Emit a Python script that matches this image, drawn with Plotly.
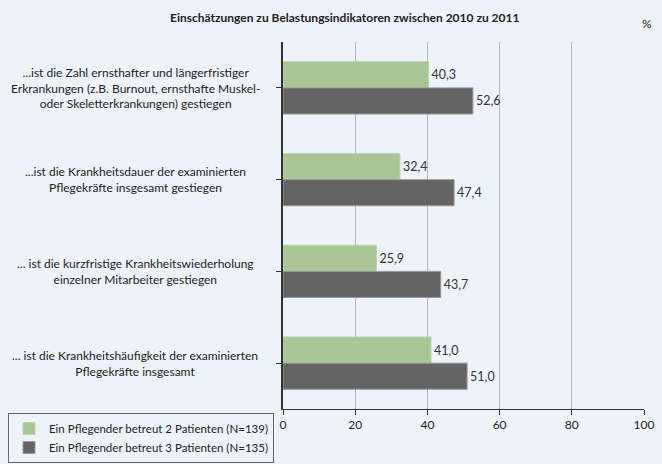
import plotly.graph_objects as go

categories = [
    "...ist die Zahl ernsthafter und längerfristiger<br>Erkrankungen (z.B. Burnout, ernsthafte Muskel-<br>oder Skeletterkrankungen) gestiegen",
    "...ist die Krankheitsdauer der examinierten<br>Pflegekräfte insgesamt gestiegen",
    "... ist die kurzfristige Krankheitswiederholung<br>einzelner Mitarbeiter gestiegen",
    "... ist die Krankheitshäufigkeit der examinierten<br>Pflegekräfte insgesamt",
]
series_names = [
    "Ein Pflegender betreut 2 Patienten (N=139)",
    "Ein Pflegender betreut 3 Patienten (N=135)",
]
values_2 = [40.3, 32.4, 25.9, 41.0]
values_3 = [52.6, 47.4, 43.7, 51.0]
x_ticks = [0, 20, 40, 60, 80, 100]
title_text = "Einschätzungen zu Belastungsindikatoren zwischen 2010 zu 2011"
unit_text = "%"

FONT = "Lato"
BG = "#eef2f9"
ids = list(range(len(categories)))
PH = 464 - 42 - 55
PW = 662 - 283 - 18


def fmt(v):
    return f"{v:.1f}".replace(".", ",")


fig = go.Figure()
fig.add_trace(go.Bar(
    y=ids, x=values_2, orientation="h", name=series_names[0],
    marker=dict(color="#a9c796", line=dict(color="#bcd3ad", width=1)),
    text=[fmt(v) for v in values_2], textposition="outside",
    textfont=dict(size=12.5, color="#333333", family=FONT), cliponaxis=False,
))
fig.add_trace(go.Bar(
    y=ids, x=values_3, orientation="h", name=series_names[1],
    marker=dict(color="#646464", line=dict(color="#999999", width=1)),
    text=[fmt(v) for v in values_3], textposition="outside",
    textfont=dict(size=12.5, color="#333333", family=FONT), cliponaxis=False,
))

for i, c in enumerate(categories):
    fig.add_annotation(
        x=(135 - 283) / PW, xref="paper", y=i, yref="y", text=c, showarrow=False,
        align="center", xanchor="center", yanchor="middle",
        font=dict(size=12, color="#222222", family=FONT),
    )

fig.add_annotation(
    x=(344 - 283) / PW, xref="paper", xanchor="center",
    y=1 + (42 - 18) / PH, yref="paper", yanchor="middle",
    text="<b>" + title_text + "</b>", showarrow=False,
    font=dict(size=12, color="#222222", family=FONT),
)
fig.add_annotation(
    x=(647 - 283) / PW, xref="paper", xanchor="center",
    y=1 + (42 - 24) / PH, yref="paper", yanchor="middle",
    text=unit_text, showarrow=False,
    font=dict(size=12, color="#222222", family=FONT),
)

fig.update_layout(
    width=662, height=464,
    paper_bgcolor=BG, plot_bgcolor=BG,
    margin=dict(l=283, r=18, t=42, b=55, autoexpand=False),
    barmode="group", bargap=0.43, bargroupgap=0,
    showlegend=True,
    legend=dict(
        x=(8 - 283) / PW, xanchor="left", y=-(413 - 409) / PH, yanchor="top",
        bgcolor="rgba(0,0,0,0)", bordercolor="#666666", borderwidth=1,
        font=dict(size=11.5, color="#222222", family=FONT),
        traceorder="normal", itemwidth=30, tracegroupgap=0,
    ),
    font=dict(family=FONT, color="#222222"),
)
fig.update_xaxes(
    range=[0, 100], tickvals=x_ticks, ticktext=[str(t) for t in x_ticks],
    showgrid=True, gridcolor="#b5b5b5", gridwidth=1,
    showline=True, linecolor="#333333", linewidth=1,
    ticks="outside", ticklen=5, tickcolor="#333333",
    tickfont=dict(size=12, color="#222222", family=FONT),
    zeroline=False, fixedrange=True,
)
fig.update_yaxes(
    range=[len(categories) - 0.5, -0.5], tickvals=ids, ticktext=[""] * len(ids),
    tickson="boundaries", ticks="outside", ticklen=5, tickcolor="#333333",
    showgrid=False, showline=True, linecolor="#333333", linewidth=1.5,
    zeroline=False, type="linear", fixedrange=True,
)

fig.write_html(
    "out.html",
    config={"displayModeBar": False},
    post_script="document.body.style.margin='0';",
)
